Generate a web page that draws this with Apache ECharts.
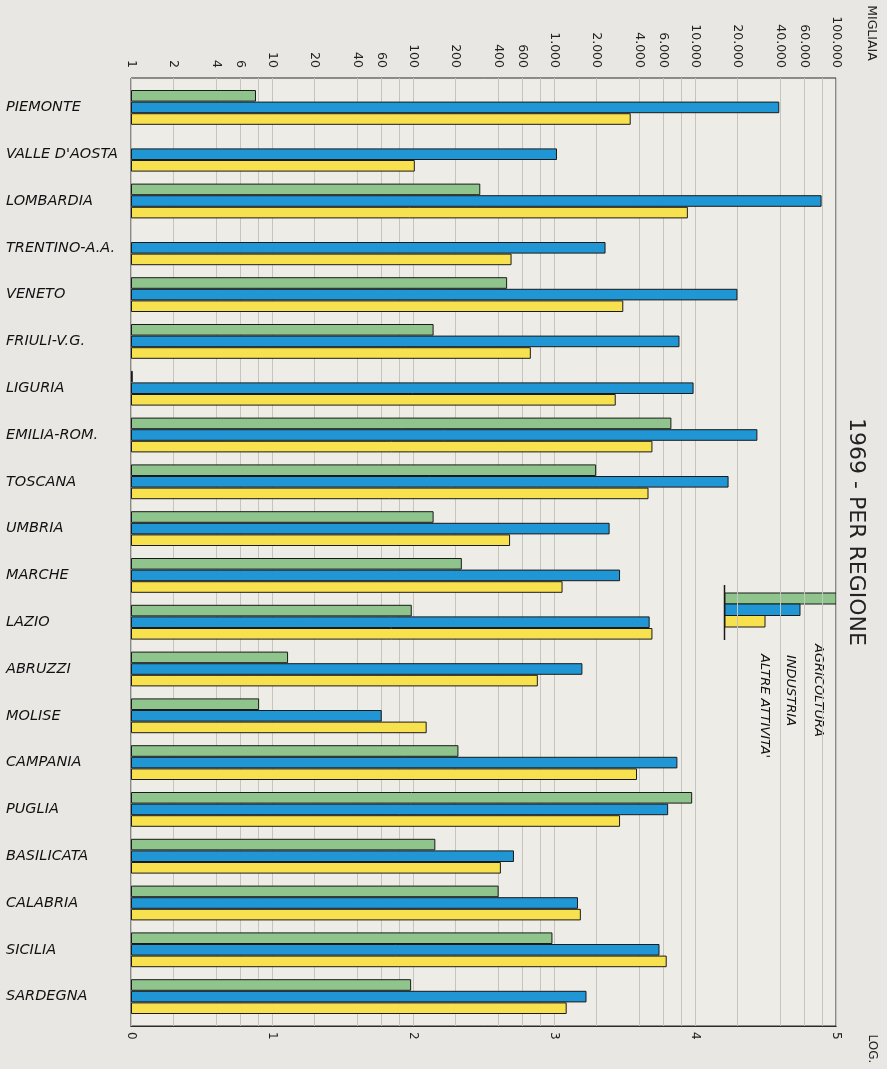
<!DOCTYPE html>
<html>
<head>
<meta charset="utf-8">
<script src="https://cdn.jsdelivr.net/npm/echarts@6/dist/echarts.min.js"></script>
<style>
  html, body { margin: 0; padding: 0; background: #e8e7e4; }
  #main { width: 887px; height: 1069px; }
</style>
</head>
<body>
<div id="main"></div>
<script>
// regioni, dall'alto in basso
const regions = ['PIEMONTE', "VALLE D'AOSTA", 'LOMBARDIA', 'TRENTINO-A.A.', 'VENETO', 'FRIULI-V.G.',
  'LIGURIA', 'EMILIA-ROM.', 'TOSCANA', 'UMBRIA', 'MARCHE', 'LAZIO', 'ABRUZZI', 'MOLISE',
  'CAMPANIA', 'PUGLIA', 'BASILICATA', 'CALABRIA', 'SICILIA', 'SARDEGNA'];

// valori in migliaia (scala log)
const agricoltura = [7.7, null, 300, null, 465, 140, 1.03, 6800, 1990, 140, 222, 98, 13, 8.1, 210, 9550, 144, 405, 975, 97];
const industria = [39600, 1050, 79000, 2320, 20000, 7760, 9770, 27700, 17300, 2480, 2940, 4770, 1590, 60, 7500, 6450, 520, 1480, 5600, 1700];
const altreAttivita = [3500, 103, 8900, 500, 3100, 685, 2740, 4990, 4680, 488, 1150, 4990, 768, 125, 3880, 2940, 420, 1550, 6300, 1230];

// tacche
const topLabels = [1, 2, 4, 6, 10, 20, 40, 60, 100, 200, 400, 600, 1000, 2000, 4000, 6000, 10000, 20000, 40000, 60000, 100000];
const gridValues = [1, 2, 4, 6, 8, 10, 20, 40, 60, 80, 100, 200, 400, 600, 800, 1000, 2000, 4000, 6000, 8000,
  10000, 20000, 40000, 60000, 80000, 100000];
const logLabels = [0, 1, 2, 3, 4, 5];

const GREEN = '#8fc48c';
const BLUE = '#2196d4';
const YELLOW = '#f8e14e';

function fmt(v) {
  return String(v).replace(/\B(?=(\d{3})+(?!\d))/g, '.');
}

const chart = echarts.init(document.getElementById('main'));

const barStyle = (c) => ({ color: c, borderColor: '#1a1a1a', borderWidth: 1 });
const barCommon = { type: 'bar', xAxisIndex: 0, yAxisIndex: 0, barWidth: 11.6, barGap: '0%' };

chart.setOption({
  backgroundColor: '#e8e7e4',
  animation: false,
  grid: [
    // barre
    { left: 131, right: 51, top: 84, bottom: 49, show: false, outerBoundsMode: 'none' },
    // cornice e scale
    { left: 131, right: 51, top: 78, bottom: 43, show: true, backgroundColor: '#eeece7',
      borderColor: '#2a2a2a', borderWidth: 1, outerBoundsMode: 'none' }
  ],
  xAxis: [
    {
      type: 'log', logBase: 10, min: 1, max: 100000, gridIndex: 0,
      axisLine: { show: false }, axisTick: { show: false }, axisLabel: { show: false },
      splitLine: { show: false }
    },
    {
      type: 'log', logBase: 10, min: 1, max: 100000, gridIndex: 1, position: 'top',
      axisLine: { show: true, lineStyle: { color: '#2a2a2a' } },
      axisTick: { show: false, customValues: gridValues },
      splitLine: { show: true, lineStyle: { color: '#c6c4bf', width: 1 } },
      axisLabel: {
        customValues: topLabels, rotate: -90, margin: 10,
        showMinLabel: true, showMaxLabel: true,
        fontFamily: 'DejaVu Sans', fontSize: 12.5, color: '#222',
        formatter: (v) => fmt(v)
      }
    },
    {
      type: 'value', min: 0, max: 5, interval: 1, gridIndex: 1, position: 'bottom',
      axisLine: { show: true, lineStyle: { color: '#2a2a2a' } },
      axisTick: { show: false },
      splitLine: { show: false },
      axisLabel: {
        customValues: logLabels, rotate: -90, margin: 6,
        showMinLabel: true, showMaxLabel: true,
        fontFamily: 'DejaVu Sans', fontSize: 12, color: '#222'
      }
    }
  ],
  yAxis: [
    {
      type: 'category', data: regions, inverse: true, gridIndex: 0,
      axisLine: { show: false },
      axisTick: { show: false },
      axisLabel: {
        align: 'left', margin: 125,
        fontFamily: 'DejaVu Sans', fontStyle: 'italic', fontSize: 14.5, color: '#111'
      }
    },
    { type: 'value', min: 0, max: 1, gridIndex: 1, show: false }
  ],
  series: [
    Object.assign({ name: 'AGRICOLTURA', data: agricoltura, itemStyle: barStyle(GREEN) }, barCommon),
    Object.assign({ name: 'INDUSTRIA', data: industria, itemStyle: barStyle(BLUE) }, barCommon),
    Object.assign({ name: "ALTRE ATTIVITA'", data: altreAttivita, itemStyle: barStyle(YELLOW) }, barCommon)
  ],
  graphic: [
    // titolo e diciture ruotate
    { type: 'text', x: 856, y: 532, rotation: -Math.PI / 2,
      style: { text: '1969 - PER REGIONE', font: '22px "DejaVu Sans"', fill: '#222', align: 'center', verticalAlign: 'middle' } },
    { type: 'text', x: 871, y: 33, rotation: -Math.PI / 2,
      style: { text: 'MIGLIAIA', font: '12.5px "DejaVu Sans"', fill: '#222', align: 'center', verticalAlign: 'middle' } },
    { type: 'text', x: 872, y: 1049, rotation: -Math.PI / 2,
      style: { text: 'LOG.', font: '12px "DejaVu Sans"', fill: '#222', align: 'center', verticalAlign: 'middle' } },
    // legenda
    { type: 'line', shape: { x1: 724.5, y1: 585, x2: 724.5, y2: 640 }, style: { stroke: '#1a1a1a', lineWidth: 1.5 } },
    { type: 'rect', shape: { x: 725, y: 593, width: 111, height: 11 }, style: { fill: GREEN, stroke: '#1a1a1a', lineWidth: 1 } },
    { type: 'rect', shape: { x: 725, y: 604, width: 75, height: 11.5 }, style: { fill: BLUE, stroke: '#1a1a1a', lineWidth: 1 } },
    { type: 'rect', shape: { x: 725, y: 615.5, width: 40, height: 11.5 }, style: { fill: YELLOW, stroke: '#1a1a1a', lineWidth: 1 } },
    { type: 'text', x: 818, y: 644, rotation: -Math.PI / 2,
      style: { text: 'AGRICOLTURA', font: 'italic 13px "DejaVu Sans"', fill: '#111', align: 'left', verticalAlign: 'middle' } },
    { type: 'text', x: 790, y: 655, rotation: -Math.PI / 2,
      style: { text: 'INDUSTRIA', font: 'italic 13px "DejaVu Sans"', fill: '#111', align: 'left', verticalAlign: 'middle' } },
    { type: 'text', x: 764, y: 654, rotation: -Math.PI / 2,
      style: { text: "ALTRE ATTIVITA'", font: 'italic 13px "DejaVu Sans"', fill: '#111', align: 'left', verticalAlign: 'middle' } }
  ]
});
</script>
</body>
</html>
